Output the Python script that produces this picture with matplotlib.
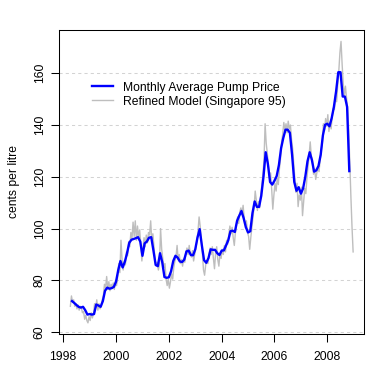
import numpy as np
import matplotlib
matplotlib.use("Agg")
import matplotlib.pyplot as plt

plt.rcParams['font.family'] = ['Liberation Sans', 'DejaVu Sans']

# monthly average pump price, May 1998 .. Nov 2008
pump_start = 1998 + 4 / 12
pump_price = [
    72.0, 71.3, 70.5, 69.8, 69.5, 69.8, 68.5, 66.8, 67.0, 66.8, 67.0, 70.7,
    70.3, 69.8, 72.0, 76.0, 77.2, 76.8, 77.0, 77.5, 79.5, 84.0, 87.5, 85.0,
    87.2, 90.5, 94.5, 95.7, 96.0, 96.3, 96.7, 95.0, 89.5, 94.3, 95.0, 96.5,
    96.7, 91.5, 86.0, 85.5, 90.5, 87.0, 81.3, 81.0, 81.2, 83.5, 87.5, 89.5,
    88.8, 87.3, 87.1, 88.0, 91.2, 91.5, 89.8, 89.7, 92.0, 96.5, 99.8, 93.5,
    87.8, 86.8, 88.6, 92.0, 91.8, 91.8, 90.5, 89.8, 91.5, 91.6, 93.5, 95.5,
    99.0, 99.2, 98.7, 103.0, 105.0, 106.8, 104.0, 100.5, 98.5, 99.0, 106.0, 110.5,
    108.4, 108.4, 112.7, 120.0, 129.5, 125.0, 118.0, 117.0, 118.5, 120.3, 124.5, 131.0,
    135.0, 138.2, 138.2, 137.0, 128.5, 118.0, 114.6, 116.0, 113.5, 115.5, 120.0, 126.0,
    129.5, 126.5, 122.0, 122.5, 124.2, 128.5, 136.0, 140.1, 140.5, 139.5, 142.7, 147.0,
    153.0, 160.4, 160.4, 151.0, 151.0, 147.0, 122.2,
]

# refined model (Singapore 95), half-monthly from ~Apr 1998
model_start = 1998.27
model_price = [
    70.0, 74.0, 71.5, 72.5, 70.0, 71.0, 69.0, 70.5, 68.5, 70.0, 69.5, 67.5,
    68.0, 65.0, 66.5, 64.5, 63.6, 66.0, 64.5, 67.5, 65.5, 67.0, 71.0, 69.5,
    72.5, 68.5, 71.0, 69.0, 70.5, 72.5, 74.0, 78.5, 77.0, 81.5, 76.5, 79.5,
    76.0, 78.5, 77.0, 79.0, 76.5, 80.0, 78.0, 81.5, 86.5, 83.0, 95.5, 88.0,
    84.0, 87.5, 86.0, 91.0, 89.5, 95.0, 93.0, 98.5, 96.0, 102.5, 97.0, 103.0,
    95.5, 101.0, 96.5, 99.5, 94.0, 87.5, 92.5, 96.5, 93.0, 97.5, 94.5, 98.5,
    97.5, 103.0, 95.5, 98.0, 93.0, 88.0, 85.5, 87.0, 84.0, 86.5, 100.0, 92.0,
    88.5, 85.0, 86.5, 80.5, 78.0, 80.5, 77.0, 79.5, 82.5, 80.5, 85.0, 87.5,
    89.0, 93.5, 88.0, 90.0, 86.5, 88.0, 85.5, 88.5, 87.0, 90.5, 92.5, 90.0,
    93.5, 90.5, 89.0, 91.5, 87.5, 90.0, 92.5, 95.0, 99.0, 104.5, 101.0, 96.0,
    90.5, 84.0, 82.0, 86.0, 87.5, 86.5, 90.0, 92.5, 90.0, 93.0, 88.5, 84.5,
    90.5, 93.0, 88.0, 85.5, 90.5, 88.5, 92.0, 90.0, 93.5, 91.0, 95.5, 94.0,
    97.5, 101.0, 98.0, 100.5, 96.5, 93.5, 98.5, 101.5, 104.5, 102.0, 106.5, 108.0,
    105.5, 109.0, 104.0, 101.5, 103.0, 98.5, 97.0, 92.0, 96.5, 100.5, 104.5, 108.5,
    114.5, 111.0, 107.0, 110.5, 108.0, 113.0, 116.5, 121.0, 126.5, 140.5, 133.0, 129.0,
    124.0, 119.5, 121.5, 115.0, 107.5, 113.0, 117.5, 114.5, 119.5, 117.0, 123.0, 127.0,
    133.5, 136.5, 141.0, 138.0, 140.5, 137.0, 141.5, 138.5, 140.0, 134.5, 131.0, 125.0,
    119.5, 114.0, 117.5, 108.5, 113.0, 111.0, 116.0, 105.0, 110.5, 115.5, 113.5, 119.5,
    124.0, 128.5, 133.5, 128.0, 126.5, 121.0, 123.0, 119.0, 121.5, 124.0, 122.0, 126.5,
    130.5, 133.0, 140.5, 138.0, 142.5, 139.5, 144.0, 137.5, 141.0, 138.5, 143.5, 146.5,
    146.0, 151.5, 149.0, 155.5, 161.0, 168.0, 172.3, 163.5, 156.0, 151.5, 155.0, 150.5,
    146.5, 138.0, 124.5, 112.0, 100.5, 91.0,
]

year_ticks = [1998, 2000, 2002, 2004, 2006, 2008]
price_ticks = [60, 80, 100, 120, 140, 160]

pump_t = pump_start + np.arange(len(pump_price)) / 12
model_t = model_start + np.arange(len(model_price)) / 24

fig = plt.figure(figsize=(3.8, 3.8), dpi=100)
ax = fig.add_axes([59 / 380, 46 / 380, 305 / 380, 304 / 380])

for p in price_ticks:
    ax.axhline(p, color='#d3d3d3', lw=0.75, dashes=(3, 3), zorder=0)

ax.plot(model_t, model_price, color='#bebebe', lw=1.0, label='Refined Model (Singapore 95)')
ax.plot(pump_t, pump_price, color='blue', lw=1.7, label='Monthly Average Pump Price')

ax.set_xlim(1997.84, 2009.39)
ax.set_ylim(59.3, 176.7)
ax.set_xticks(year_ticks)
ax.set_yticks(price_ticks)
ax.set_yticklabels([str(p) for p in price_ticks], rotation=90, va='center')
ax.tick_params(length=5.5, width=0.75, labelsize=8.7, color='black')
ax.tick_params(axis='x', pad=7)
ax.tick_params(axis='y', pad=4)
for s in ax.spines.values():
    s.set_linewidth(0.75)
ax.set_ylabel('cents per litre', fontsize=8.7, labelpad=10)

h, l = ax.get_legend_handles_labels()
ax.legend(h[::-1], l[::-1], loc='upper left', bbox_to_anchor=(0.108, 0.83),
          frameon=False, fontsize=8.7, handlelength=1.75, handletextpad=0.8,
          labelspacing=0.16, borderpad=0, borderaxespad=0)

fig.savefig('out.png', dpi=100)
